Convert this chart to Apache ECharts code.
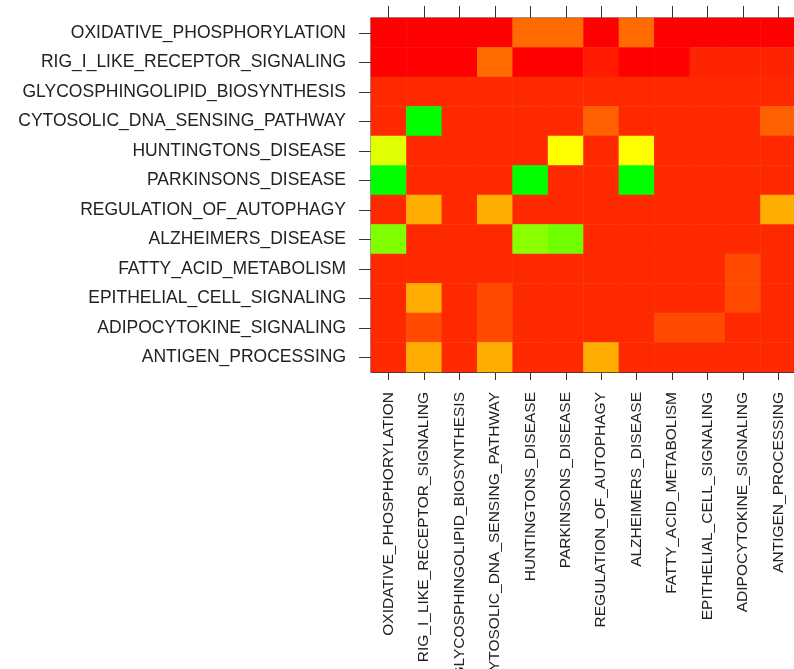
<!DOCTYPE html>
<html>
<head>
<meta charset="utf-8">
<script src="https://cdn.jsdelivr.net/npm/echarts@6/dist/echarts.min.js"></script>
<style>
  html, body { margin: 0; padding: 0; background: #fff; }
  #chart { width: 794px; height: 669px; }
</style>
</head>
<body>
<div id="chart"></div>
<script>
// pathway names, same order on both axes
const pathways = [
  'OXIDATIVE_PHOSPHORYLATION',
  'RIG_I_LIKE_RECEPTOR_SIGNALING',
  'GLYCOSPHINGOLIPID_BIOSYNTHESIS',
  'CYTOSOLIC_DNA_SENSING_PATHWAY',
  'HUNTINGTONS_DISEASE',
  'PARKINSONS_DISEASE',
  'REGULATION_OF_AUTOPHAGY',
  'ALZHEIMERS_DISEASE',
  'FATTY_ACID_METABOLISM',
  'EPITHELIAL_CELL_SIGNALING',
  'ADIPOCYTOKINE_SIGNALING',
  'ANTIGEN_PROCESSING'
];

// one row per pathway (top to bottom), one value per column (left to right)
const oxidativeRow   = [0, 0, 0, 0, 0.21, 0.21, 0, 0.21, 0, 0, 0, 0];
const rigRow         = [0, 0, 0, 0.21, 0, 0, 0.05, 0, 0, 0.07, 0.07, 0.07];
const glycoRow       = [0.08, 0.08, 0.08, 0.08, 0.08, 0.08, 0.08, 0.08, 0.08, 0.08, 0.08, 0.08];
const cytosolicRow   = [0.08, 1, 0.08, 0.08, 0.08, 0.08, 0.19, 0.08, 0.08, 0.08, 0.08, 0.19];
const huntingtonsRow = [0.56, 0.08, 0.08, 0.08, 0.08, 0.5, 0.08, 0.5, 0.08, 0.08, 0.08, 0.08];
const parkinsonsRow  = [1, 0.08, 0.08, 0.08, 1, 0.08, 0.08, 1, 0.08, 0.08, 0.08, 0.08];
const autophagyRow   = [0.08, 0.34, 0.08, 0.34, 0.08, 0.08, 0.08, 0.08, 0.08, 0.08, 0.08, 0.34];
const alzheimersRow  = [0.75, 0.08, 0.08, 0.08, 0.73, 0.78, 0.08, 0.08, 0.08, 0.08, 0.08, 0.08];
const fattyAcidRow   = [0.08, 0.08, 0.08, 0.08, 0.08, 0.08, 0.08, 0.08, 0.08, 0.08, 0.145, 0.08];
const epithelialRow  = [0.08, 0.34, 0.08, 0.145, 0.08, 0.08, 0.08, 0.08, 0.08, 0.08, 0.145, 0.08];
const adipoRow       = [0.08, 0.145, 0.08, 0.145, 0.08, 0.08, 0.08, 0.08, 0.145, 0.145, 0.08, 0.08];
const antigenRow     = [0.08, 0.34, 0.08, 0.34, 0.08, 0.08, 0.34, 0.08, 0.08, 0.08, 0.08, 0.08];

const rows = [
  oxidativeRow, rigRow, glycoRow, cytosolicRow, huntingtonsRow, parkinsonsRow,
  autophagyRow, alzheimersRow, fattyAcidRow, epithelialRow, adipoRow, antigenRow
];

const cells = [];
rows.forEach(function(row, y) {
  row.forEach(function(v, x) {
    cells.push([x, y, v]);
  });
});

const FONT = '"Liberation Sans", Arial, sans-serif';
const AXIS_COLOR = '#333';

const myChart = echarts.init(document.getElementById('chart'));
myChart.setOption({
  animation: false,
  grid: {
    left: 371,
    top: 18,
    width: 425,
    height: 354,
    containLabel: false,
    outerBoundsMode: 'none',
    show: true,
    borderColor: AXIS_COLOR,
    borderWidth: 1,
    backgroundColor: 'transparent'
  },
  visualMap: {
    show: false,
    min: 0,
    max: 1,
    calculable: false,
    inRange: {
      color: ['#FF0000', '#FFFF00', '#00FF00']
    }
  },
  xAxis: [
    {
      type: 'category',
      data: pathways,
      position: 'bottom',
      splitArea: { show: false },
      splitLine: { show: false },
      axisLine: { show: true, lineStyle: { color: AXIS_COLOR } },
      axisTick: { show: true, interval: 0, alignWithLabel: true, length: 8, lineStyle: { color: AXIS_COLOR } },
      axisLabel: {
        rotate: 90,
        interval: 0,
        margin: 20,
        color: '#222',
        fontSize: 15.5,
        fontFamily: FONT
      }
    },
    {
      type: 'category',
      data: pathways,
      position: 'top',
      splitLine: { show: false },
      axisLine: { show: true, lineStyle: { color: AXIS_COLOR } },
      axisTick: { show: true, interval: 0, alignWithLabel: true, length: 12, lineStyle: { color: AXIS_COLOR } },
      axisLabel: { show: false, interval: 0 }
    }
  ],
  yAxis: {
    type: 'category',
    data: pathways,
    inverse: true,
    splitLine: { show: false },
    axisLine: { show: true, lineStyle: { color: AXIS_COLOR } },
    axisTick: { show: true, interval: 0, alignWithLabel: true, length: 12, lineStyle: { color: AXIS_COLOR } },
    axisLabel: {
      interval: 0,
      margin: 25,
      color: '#222',
      fontSize: 17.5,
      fontFamily: FONT
    }
  },
  series: [
    {
      type: 'heatmap',
      xAxisIndex: 0,
      yAxisIndex: 0,
      data: cells,
      itemStyle: { borderWidth: 0 },
      emphasis: { disabled: true }
    }
  ]
});
</script>
</body>
</html>
